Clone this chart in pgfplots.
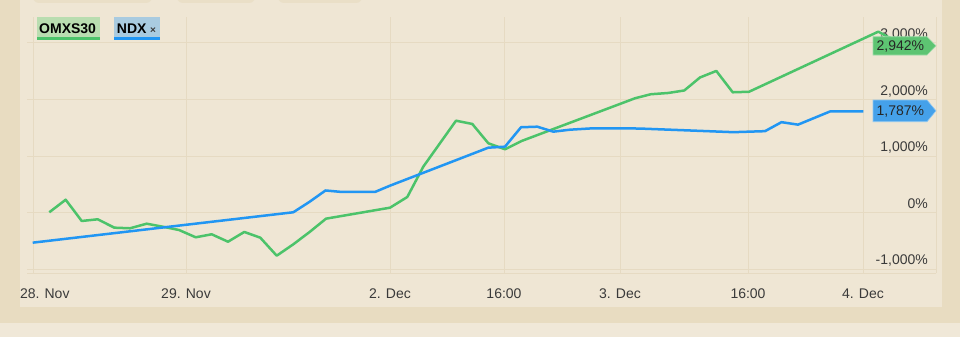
\documentclass[border=0pt]{standalone}
\usepackage{pgfplots}
\pgfplotsset{compat=1.18}
\usepackage{fontspec}
\setmainfont{Liberation Sans}
\definecolor{panel}{HTML}{EFE6D4}
\definecolor{framec}{HTML}{E8DCC1}
\definecolor{bottomc}{HTML}{F0E8D8}
\definecolor{gridc}{HTML}{E6DAC2}
\definecolor{gline}{HTML}{4CC36A}
\definecolor{bline}{HTML}{2196F3}
\definecolor{gbox}{HTML}{5DC472}
\definecolor{bbox}{HTML}{45A1EA}
\definecolor{glegend}{HTML}{B9DDB0}
\definecolor{blegend}{HTML}{A9CBE0}
\definecolor{txt}{HTML}{3A3A3A}
\pgfplotstableread{
x y
49.3 9
65.7 231
81.7 -145
97.7 -115
114.3 -263
130 -274
146.7 -193
162.7 -246
179 -304
195.7 -433
211.7 -380
228 -511
244.3 -339
260.3 -440
276.7 -758
293.3 -557
310 -334
326 -104
390 90
407.3 279
423.3 815
456 1627
472.3 1569
488.3 1228
505 1122
521.7 1269
635 2023
650.7 2094
668.3 2117
684.3 2161
700 2391
716.3 2506
732.7 2129
749 2138
878.3 3200
905 2942
}\omxs
\pgfplotstableread{
x y
32.7 -528
293.3 9
309.3 191
325.5 394
341.7 368
375 368
390 479
488.3 1150
505 1168
521 1511
537.3 1521
553.3 1433
570 1468
593.3 1493
620 1493
640 1488
690 1454
733.3 1424
765 1442
781.5 1601
798 1557
830 1790
863.3 1790
}\ndx
\begin{document}
\begin{tikzpicture}[x=1bp,y=1bp]
\useasboundingbox (0,0) rectangle (960,337);
\fill[bottomc] (0,0) rectangle (960,337);
\fill[framec] (0,14) rectangle (960,337);
\fill[panel] (20,30) rectangle (942,337);
\fill[framec!70!panel, rounded corners=6bp] (33,334) rectangle (152,350);
\fill[framec!70!panel, rounded corners=6bp] (177,334) rectangle (255,350);
\fill[framec!70!panel, rounded corners=6bp] (278,334) rectangle (362,350);
\begin{axis}[
  at={(27bp,64bp)}, anchor=south west,
  scale only axis, width=909bp, height=256bp,
  xmin=27, xmax=936, ymin=-1064, ymax=3459,
  axis x line*=bottom, axis y line*=right,
  axis line style={gridc, line width=1bp, -},
  major tick length=0pt,
  grid=major, major grid style={gridc, line width=1bp},
  xtick={33,186,390,504,620,748,863},
  xticklabels={\makebox[0pt][l]{\hspace{-13bp}28. Nov},29. Nov,2. Dec,16:00,3. Dec,16:00,4. Dec},
  ytick={-1000,0,1000,2000,3000},
  yticklabels={{-1,000\%},{0\%},{1,000\%},{2,000\%},{3,000\%}},
  xticklabel style={font=\fontsize{14bp}{16bp}\selectfont, text=txt, anchor=center, inner sep=0pt, text height=10bp, text depth=0pt, yshift=-20bp},
  yticklabel style={font=\fontsize{14bp}{16bp}\selectfont, text=txt, anchor=east, inner sep=0pt, text height=10bp, text depth=0pt, xshift=-8bp, yshift=9.5bp},
  clip=false,
]
\addplot[gline, line width=2.5bp, line join=round] table[x=x,y=y] {\omxs};
\addplot[bline, line width=2.5bp, line join=round] table[x=x,y=y] {\ndx};
\end{axis}
% right value flags
\fill[gbox, draw=gbox!60!white, line width=0.6bp] (873,282) -- (927,282) -- (936,291.2) -- (927,300.3) -- (873,300.3) -- cycle;
\node[anchor=west, inner sep=0pt, text height=10bp, text depth=0pt, font=\fontsize{14bp}{16bp}\selectfont, text=black!85] at (876.5,291.2) {2,942\%};
\fill[bbox, draw=bbox!60!white, line width=0.6bp] (873,215.3) -- (927,215.3) -- (936,226.2) -- (927,237) -- (873,237) -- cycle;
\node[anchor=west, inner sep=0pt, text height=10bp, text depth=0pt, font=\fontsize{14bp}{16bp}\selectfont, text=black!85] at (876.5,226.2) {1,787\%};
% legend
\fill[glegend] (36.7,297) rectangle (100,320);
\fill[gline] (36.7,297) rectangle (100,300);
\node[anchor=west, inner sep=0pt, text height=10bp, text depth=0pt, font=\fontsize{14bp}{16bp}\selectfont\bfseries] at (39,309) {OMXS30};
\fill[blegend] (114,297) rectangle (160,320);
\fill[bline] (114,297) rectangle (160,300);
\node[anchor=west, inner sep=0pt, text height=10bp, text depth=0pt, font=\fontsize{14bp}{16bp}\selectfont\bfseries] at (116.7,309) {NDX};
\node[inner sep=0pt, font=\fontsize{10bp}{12bp}\selectfont\bfseries, text=txt] at (153,306.5) {×};
\end{tikzpicture}
\end{document}
